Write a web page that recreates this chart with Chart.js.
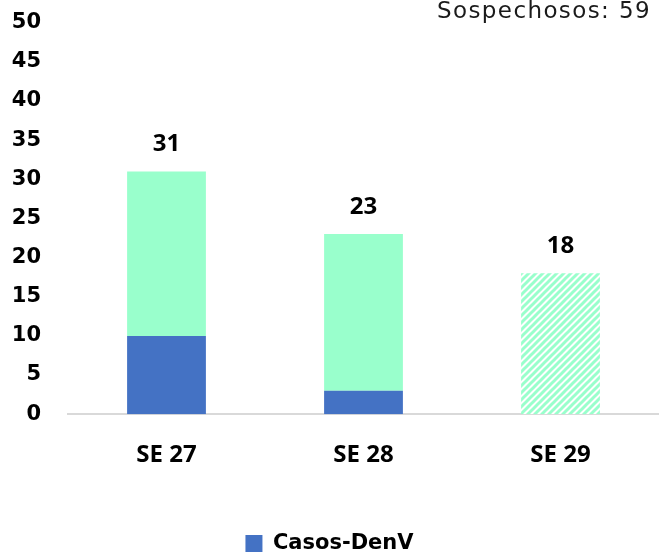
<!DOCTYPE html>
<html lang="es">
<head>
<meta charset="UTF-8">
<title>Casos DenV</title>
<script src="https://cdn.jsdelivr.net/npm/chart.js"></script>
<style>
    body { margin: 0; background: #fff; overflow: hidden; }
    #wrap { width: 659px; height: 571px; margin-top: -17px; position: relative; }
</style>
</head>
<body>
<div id="wrap"><canvas id="chart"></canvas></div>
<script>
// data
const semanas = ['SE 27', 'SE 28', 'SE 29'];
const confirmados = [10, 3, null];
const sospechososSemana = [21, 20, null];
const proyectado = [null, null, 18];
const totales = [31, 23, 18];
const yTicks = [0, 5, 10, 15, 20, 25, 30, 35, 40, 45, 50];
const sospechososTexto = 'Sospechosos: 59';

const azul = '#4472C4';
const verde = '#99FFCC';

function rayado() {
    const c = document.createElement('canvas');
    c.width = 7; c.height = 7;
    const g = c.getContext('2d');
    g.fillStyle = '#ffffff';
    g.fillRect(0, 0, 7, 7);
    g.strokeStyle = verde;
    g.lineWidth = 3;
    g.beginPath();
    g.moveTo(-2, 9); g.lineTo(9, -2);
    g.moveTo(-2, 2); g.lineTo(2, -2);
    g.moveTo(5, 9); g.lineTo(9, 5);
    g.stroke();
    return g.createPattern(c, 'repeat');
}

const yFont = { family: "'DejaVu Sans', sans-serif", size: 21, weight: 'bold' };
const xFont = { family: "'Open Sans', sans-serif", size: 24, weight: 'bold' };
const legendFont = { family: "'DejaVu Sans', sans-serif", size: 21, weight: 'bold' };

// totals above the bars + top-right note
const etiquetas = {
    id: 'etiquetas',
    afterDatasetsDraw(chart) {
        const ctx = chart.ctx;
        const x = chart.scales.x, y = chart.scales.y;
        ctx.save();
        ctx.fillStyle = '#000';
        ctx.font = 'bold 24px "Open Sans", sans-serif';
        ctx.textAlign = 'center';
        ctx.textBaseline = 'alphabetic';
        totales.forEach((t, i) => {
            ctx.fillText(t, x.getPixelForValue(i), y.getPixelForValue(t) - 20);
        });
        ctx.font = '23px "DejaVu Sans", sans-serif';
        const w = ctx.measureText(sospechososTexto).width;
        ctx.letterSpacing = Math.max(0, (214 - w) / sospechososTexto.length) + 'px';
        ctx.fillStyle = '#1a1a1a';
        ctx.textAlign = 'right';
        ctx.fillText(sospechososTexto, 651, 18 + 17);
        ctx.restore();
    }
};

new Chart(document.getElementById('chart'), {
    type: 'bar',
    data: {
        labels: semanas,
        datasets: [
            { label: 'Casos-DenV', data: confirmados, backgroundColor: azul, stack: 's' },
            { label: 'Sospechosos', data: sospechososSemana, backgroundColor: verde, stack: 's' },
            { label: 'Proyectado', data: proyectado, backgroundColor: rayado(), stack: 's' }
        ]
    },
    options: {
        responsive: true,
        maintainAspectRatio: false,
        animation: false,
        layout: { padding: { left: 0, right: 0, top: -12, bottom: -10 } },
        datasets: { bar: { barPercentage: 0.8, categoryPercentage: 0.5 } },
        scales: {
            x: {
                stacked: true,
                grid: { display: false, drawTicks: false },
                border: { color: '#d9d9d9', width: 2 },
                ticks: { color: '#000', font: xFont, padding: 27 },
                afterFit(scale) { scale.height += 26; }
            },
            y: {
                stacked: true,
                min: 0, max: 50,
                afterBuildTicks(scale) { scale.ticks = yTicks.map(v => ({ value: v })); },
                grid: { display: false, drawTicks: false },
                border: { display: false },
                ticks: { color: '#000', font: yFont, padding: 27 },
                afterFit(scale) { scale.width = 68; }
            }
        },
        plugins: {
            legend: {
                position: 'bottom',
                labels: {
                    filter: item => item.datasetIndex === 0,
                    color: '#000',
                    font: legendFont,
                    boxWidth: 17, boxHeight: 17
                }
            },
            tooltip: { enabled: false }
        }
    },
    plugins: [etiquetas]
});
</script>
</body>
</html>
